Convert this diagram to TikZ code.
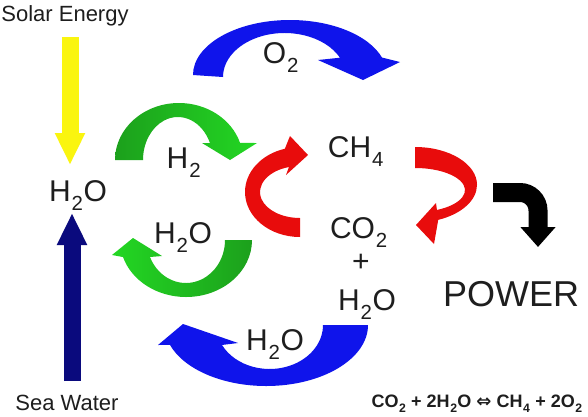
\documentclass[tikz,border=0pt]{standalone}
\usepackage{fontspec}
\usepackage{graphicx}
\setmainfont{Liberation Sans}
\newfontfamily\symfont{DejaVu Sans}
\usetikzlibrary{arrows.meta}
\definecolor{txt}{RGB}{30,30,30}
\definecolor{sunyellow}{RGB}{250,245,15}
\definecolor{seanavy}{RGB}{10,10,125}
\definecolor{oxblue}{RGB}{15,20,235}
\definecolor{redc}{RGB}{232,12,12}
\definecolor{gdark}{RGB}{28,160,28}
\definecolor{glight}{RGB}{35,215,35}
\newcommand{\sbs}[1]{\kern0.03em\raisebox{-0.32em}{\scalebox{0.68}{#1}}\kern0.02em\relax}
\begin{document}
\begin{tikzpicture}[x=1pt,y=-1pt,
  lbl/.style={text=txt,inner sep=0pt,anchor=base,font=\fontsize{22}{24}\selectfont},
  chem/.style={text=txt,inner sep=0pt,anchor=base,font=\fontsize{30}{32}\selectfont},
  bigtxt/.style={text=txt,inner sep=0pt,anchor=base,font=\fontsize{36}{38}\selectfont},
  eqn/.style={text=txt,inner sep=0pt,anchor=base,font=\bfseries\fontsize{18}{20}\selectfont},
  straight/.style={line width=17pt,-{Triangle[width=28pt,length=32pt]}}]
\useasboundingbox[fill=white] (0,0) rectangle (588,416);

% labels
\node[lbl] (solar) at (65,21) {Solar Energy};
\node[lbl] (sea) at (67,410) {Sea Water};
\node[chem] (h2oL) at (78,201) {H\sbs{2}O};
\node[chem] (o2) at (281,63) {O\sbs{2}};
\node[chem] (h2) at (184,168) {H\sbs{2}};
\node[chem] (ch4) at (356,157) {CH\sbs{4}};
\node[chem] (co2) at (359,238) {CO\sbs{2}};
\node[chem] (plus) at (361,271) {+};
\node[chem] (h2oR) at (367,310) {H\sbs{2}O};
\node[chem] (h2oG) at (183,243) {H\sbs{2}O};
\node[chem] (h2oB) at (275,350) {H\sbs{2}O};
\node[bigtxt] (power) at (511,306) {POWER};
\node[eqn] (eq) at (477,407) {CO\sbs{2} + 2H\sbs{2}O {\symfont\bfseries ⇔} CH\sbs{4} + 2O\sbs{2}};

% straight arrows
\coordinate (ys) at (70,37);
\coordinate (ye) at (70,165);
\coordinate (ns) at (72,381);
\coordinate (ne) at (72,213);
\draw[straight,sunyellow] (ys) -- (ye);
\draw[straight,seanavy] (ns) -- (ne);

% blue top arrow (O2)
\fill[oxblue] ([shift={(180:97 and 55)}]290,75) arc[start angle=180,end angle=341.5,x radius=97,y radius=55]
  -- (400,62) -- (363,80) -- (318,60)
  -- ([shift={(334:61.6 and 44)}]284.6,77) arc[start angle=334,end angle=180,x radius=61.6,y radius=44] -- cycle;

% blue bottom arrow (H2O)
\fill[oxblue] ([shift={(0:101.8 and 61)}]266.2,325) arc[start angle=0,end angle=161,x radius=101.8,y radius=61]
  -- (158,345) -- (183,324) -- (238,343)
  -- ([shift={(153:53.4 and 44)}]269.6,325) arc[start angle=153,end angle=0,x radius=53.4,y radius=44] -- cycle;

% green top arrow (H2)
\shade[left color=gdark,right color=glight] ([shift={(180:64 and 57)}]179,160) arc[start angle=180,end angle=342.6,x radius=64,y radius=57]
  -- (257,143) -- (230,160) -- (202,143)
  -- ([shift={(336.7:34.9 and 43)}]177.9,160) arc[start angle=336.7,end angle=180,x radius=34.9,y radius=43] -- cycle;

% green bottom arrow (H2O)
\shade[left color=glight,right color=gdark] ([shift={(0:66 and 57)}]186,240) arc[start angle=0,end angle=162.6,x radius=66,y radius=57]
  -- (112,255) -- (133,238) -- (162,256)
  -- ([shift={(156.7:39.1 and 43)}]185.9,240) arc[start angle=156.7,end angle=0,x radius=39.1,y radius=43] -- cycle;

% red left arrow
\fill[redc] ([shift={(90:55 and 45)}]300,192) arc[start angle=90,end angle=254,x radius=55,y radius=45]
  -- (290,136) -- (308,155) -- (286,175)
  -- ([shift={(254:40 and 26)}]300,192) arc[start angle=254,end angle=90,x radius=40,y radius=26] -- cycle;

% red right arrow
\fill[redc] ([shift={(270:62 and 37.8)}]415,184.8) arc[start angle=270,end angle=428,x radius=62,y radius=37.8]
  -- (434,244) -- (416,225) -- (436,203)
  -- ([shift={(424:50 and 22.1)}]415,190.1) arc[start angle=424,end angle=270,x radius=50,y radius=22.1] -- cycle;

% black arrow to POWER
\coordinate (bs) at (493,192.5);
\coordinate (be) at (538,247);
\draw[black,line width=19pt,rounded corners=18pt,-{Triangle[width=34pt,length=20pt]}] (bs) -| (be);
\end{tikzpicture}
\end{document}
